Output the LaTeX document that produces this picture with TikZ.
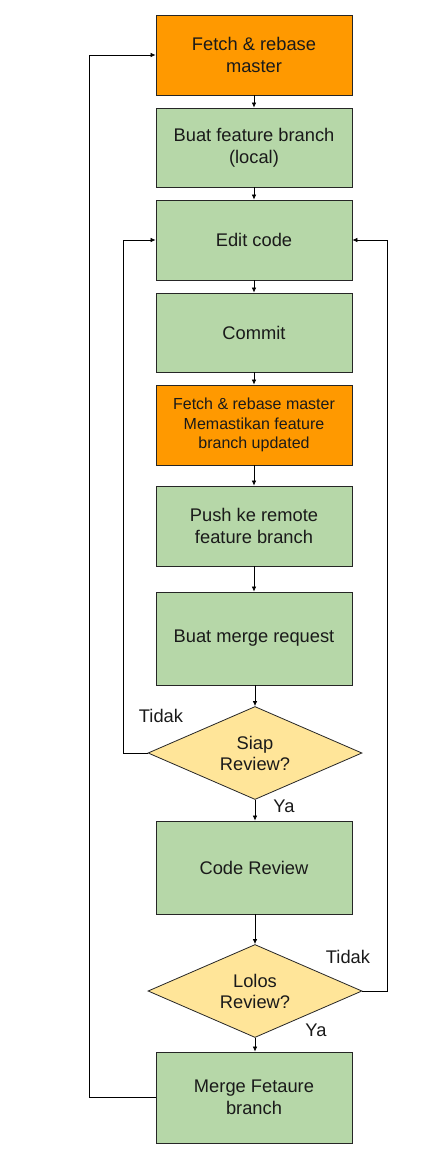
\documentclass[tikz,border=0pt]{standalone}
\usepackage{fontspec}
\setmainfont{Liberation Sans}
\usetikzlibrary{shapes.geometric,arrows.meta}
\definecolor{orng}{HTML}{FF9900}
\definecolor{grn}{HTML}{B6D7A8}
\definecolor{ylw}{HTML}{FFE599}
\definecolor{txt}{HTML}{1A1A1A}
\begin{document}
\begin{tikzpicture}[x=1pt,y=-1pt,
  box/.style={draw=black!85,line width=0.8pt,minimum width=196pt,inner sep=0pt,align=center,font=\fontsize{18.3}{22}\selectfont,text=txt},
  obox/.style={box,fill=orng},
  gbox/.style={box,fill=grn},
  dia/.style={draw=black!85,line width=0.8pt,diamond,aspect=2.3,fill=ylw,minimum width=214pt,minimum height=93pt,inner sep=0pt,align=center,font=\fontsize{18.3}{21}\selectfont,text=txt},
  lbl/.style={font=\fontsize{18.3}{21}\selectfont,text=txt},
  conn/.style={draw=black,line width=0.7pt,-{Latex[length=5pt,width=4.5pt]}},
  line/.style={draw=black,line width=0.7pt}]
\useasboundingbox[fill=white] (0,0) rectangle (441,1160);
\node[obox,minimum height=80pt] (b1) at (254,55) {Fetch \& rebase\\master};
\node[gbox,minimum height=79pt] (b2) at (254,147.5) {Buat feature branch\\(local)};
\node[gbox,minimum height=80pt] (b3) at (254,240) {Edit code};
\node[gbox,minimum height=79pt] (b4) at (254,332.5) {Commit};
\node[obox,minimum height=80pt,font=\fontsize{16}{19.5}\selectfont] (b5) at (254,425) {Fetch \& rebase master\\Memastikan feature\\branch updated};
\node[gbox,minimum height=80pt] (b6) at (254,526) {Push ke remote\\feature branch};
\node[gbox,minimum height=93pt] (b7) at (254,638.5) {Buat merge request};
\node[dia] (d1) at (255,753) {Siap\\Review?};
\node[gbox,minimum height=93pt] (b8) at (254,867.5) {Code Review};
\node[dia] (d2) at (255,991) {Lolos\\Review?};
\node[gbox,minimum height=91pt] (b9) at (254,1097.5) {Merge Fetaure\\branch};
\draw[conn] (b1) -- (b2);
\draw[conn] (b2) -- (b3);
\draw[conn] (b3) -- (b4);
\draw[conn] (b4) -- (b5);
\draw[conn] (b5) -- (b6);
\draw[conn] (b6) -- (b7);
\draw[conn] (b7.south -| d1.north) -- (d1.north);
\draw[conn] (d1.south) -- (d1.south |- b8.north);
\draw[conn] (b8.south -| d2.north) -- (d2.north);
\draw[conn] (d2.south) -- (d2.south |- b9.north);
\coordinate (l1) at (123,753);
\coordinate (l2) at (89,1097.5);
\coordinate (r1) at (387,991);
\draw[conn] (d1.west) -- (l1) |- (b3.west);
\draw[conn] (d2.east) -- (r1) |- (b3.east);
\draw[conn] (b9.west) -- (l2) |- (b1.west);
\node[lbl] (t1) at (161,716) {Tidak};
\node[lbl] (y1) at (284,806) {Ya};
\node[lbl] (t2) at (348,957) {Tidak};
\node[lbl] (y2) at (316,1030) {Ya};
\end{tikzpicture}
\end{document}
